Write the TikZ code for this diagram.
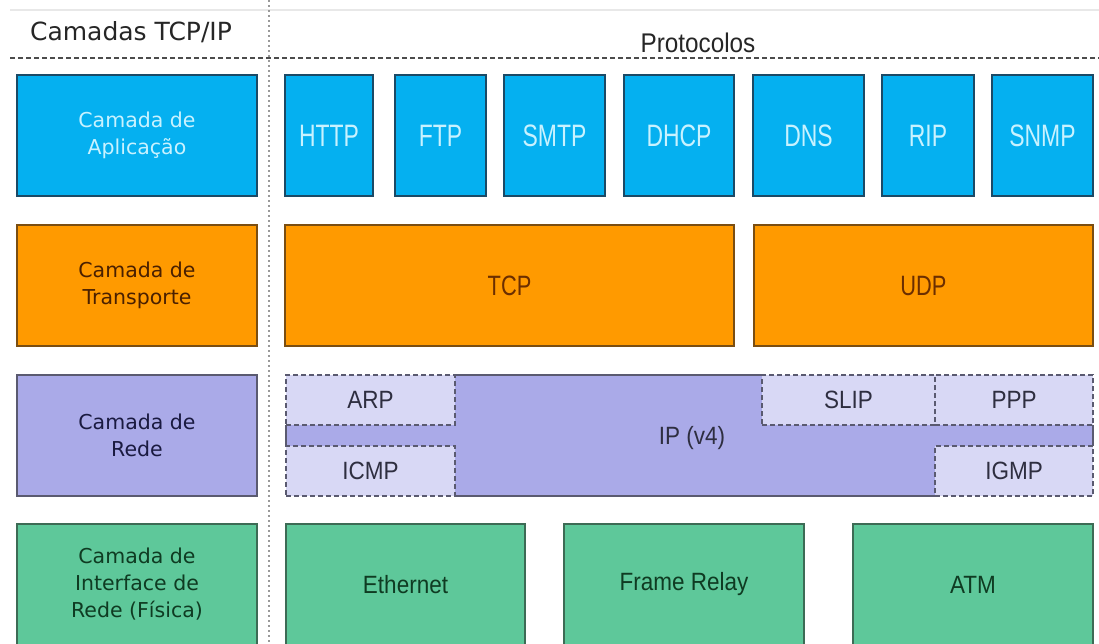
\documentclass[tikz,border=0pt]{standalone}
\usepackage{fontspec}
\newfontfamily\labfont{DejaVu Sans}
\newfontfamily\protofont[FakeStretch=0.74]{Liberation Sans}
\newfontfamily\trfont[FakeStretch=0.78]{Liberation Sans}
\newfontfamily\protofontb[FakeStretch=0.9]{Liberation Sans}
\definecolor{appblue}{HTML}{05B0F0}
\definecolor{appborder}{HTML}{1B4A66}
\definecolor{apptext}{HTML}{C8F2FF}
\definecolor{orng}{HTML}{FF9A00}
\definecolor{orngborder}{HTML}{7A4E12}
\definecolor{orngtext}{HTML}{6B2E00}
\definecolor{orngleft}{HTML}{4A2000}
\definecolor{purp}{HTML}{AAAAE8}
\definecolor{purplight}{HTML}{D8D8F5}
\definecolor{purpborder}{HTML}{5A5A70}
\definecolor{purptext}{HTML}{2E2E40}
\definecolor{purpleft}{HTML}{1A1A40}
\definecolor{grn}{HTML}{5EC89A}
\definecolor{grnborder}{HTML}{3D6B55}
\definecolor{grntext}{HTML}{0F3B22}
\begin{document}
\begin{tikzpicture}[x=1pt,y=-1pt,
  box/.style={inner sep=0pt,outer sep=0pt,line width=1.6pt,align=center},
  leftlab/.style={font=\labfont\fontsize{20.5}{27}\selectfont},
  appbox/.style={box,fill=appblue,draw=appborder,text=apptext},
  trbox/.style={box,fill=orng,draw=orngborder,text=orngtext},
  netbox/.style={box,fill=purp,draw=purpborder,text=purptext},
  subbox/.style={box,fill=purplight,draw=purpborder,dashed,dash pattern=on 5pt off 3pt,line width=1.4pt,text=purptext,font=\protofontb\fontsize{25}{28}\selectfont},
  phybox/.style={box,fill=grn,draw=grnborder,text=grntext,font=\protofontb\fontsize{25}{28}\selectfont},
  protlab/.style={font=\protofont\fontsize{31}{34}\selectfont},
  trlab/.style={font=\trfont\fontsize{28}{32}\selectfont},
  sep/.style={line width=1.5pt}
]
\useasboundingbox (0,0) rectangle (1099,643);
\fill[white] (0,0) rectangle (1099,643);
\begin{scope}
\clip (0,0) rectangle (1099,643);
% top faint edge
\draw[gray!18,line width=2.5pt] (10,10) -- (1099,10);
% headers
\node[font=\labfont\fontsize{25}{28}\selectfont,text=black!85,inner sep=0pt] (hdrl) at (131,32) {Camadas TCP/IP};
\node[font=\protofontb\fontsize{27}{30}\selectfont,text=black!85,inner sep=0pt] (hdrr) at (698,43) {Protocolos};
\coordinate (hl1) at (10,58);
\coordinate (hl2) at (1099,58);
\coordinate (vl1) at (269,0);
\coordinate (vl2) at (269,643);
\draw[black!70,line width=1.4pt,dash pattern=on 5pt off 3pt] (hl1) -- (hl2);
\draw[gray!80,line width=1.8pt,dash pattern=on 2pt off 3pt] (vl1) -- (vl2);

% row 1 application
\node[appbox,leftlab,text=apptext,minimum width=240pt,minimum height=121pt] (lapp) at (137,135.5) {Camada de\\Aplicação};
\node[appbox,protlab,minimum width=88pt,minimum height=121pt] (http) at (329,135.5) {HTTP};
\node[appbox,protlab,minimum width=91pt,minimum height=121pt] (ftp) at (440.5,135.5) {FTP};
\node[appbox,protlab,minimum width=101pt,minimum height=121pt] (smtp) at (554.5,135.5) {SMTP};
\node[appbox,protlab,minimum width=110pt,minimum height=121pt] (dhcp) at (679,135.5) {DHCP};
\node[appbox,protlab,minimum width=111pt,minimum height=121pt] (dns) at (808.5,135.5) {DNS};
\node[appbox,protlab,minimum width=92pt,minimum height=121pt] (rip) at (928,135.5) {RIP};
\node[appbox,protlab,minimum width=101pt,minimum height=121pt] (snmp) at (1042.5,135.5) {SNMP};

% row 2 transport
\node[trbox,leftlab,text=orngleft,minimum width=240pt,minimum height=121pt] (ltr) at (137,285.5) {Camada de\\Transporte};
\node[trbox,trlab,minimum width=449pt,minimum height=121pt] (tcp) at (509.5,285.5) {TCP};
\node[trbox,trlab,minimum width=339pt,minimum height=121pt] (udp) at (923.5,285.5) {UDP};

% row 3 network
\node[netbox,leftlab,text=purpleft,minimum width=240pt,minimum height=121pt] (lnet) at (137,435.5) {Camada de\\Rede};
\node[box,fill=purp,draw=none,minimum width=807pt,minimum height=121pt] (ip) at (689.5,435.5) {};
\node[inner sep=0pt,text=purptext,font=\protofontb\fontsize{25}{28}\selectfont] (iplab) at (692,438) {IP (v4)};
\node[subbox,minimum width=169pt,minimum height=50pt] (arp) at (370.5,400) {ARP};
\node[subbox,minimum width=169pt,minimum height=50pt] (icmp) at (370.5,471) {ICMP};
\node[subbox,minimum width=173pt,minimum height=50pt] (slip) at (848.5,400) {SLIP};
\node[subbox,minimum width=158pt,minimum height=50pt] (ppp) at (1014,400) {PPP};
\node[subbox,minimum width=158pt,minimum height=50pt] (igmp) at (1014,471) {IGMP};
\draw[purpborder,line width=1.6pt] (arp.north east) -- (slip.north west);
\draw[purpborder,line width=1.6pt] (icmp.south east) -- (igmp.south west);
\draw[purpborder,line width=1.6pt] (arp.south west) -- (icmp.north west);
\draw[purpborder,line width=1.6pt] (ppp.south east) -- (igmp.north east);

% row 4 physical
\node[phybox,leftlab,text=grntext,minimum width=240pt,minimum height=121pt] (lphy) at (137,584.5) {Camada de\\Interface de\\Rede (Física)};
\node[phybox,minimum width=239pt,minimum height=121pt] (eth) at (405.5,584.5) {Ethernet};
\node[phybox,minimum width=240pt,minimum height=121pt] (fr) at (684,584.5) {Frame Relay};
\node[phybox,minimum width=240pt,minimum height=121pt] (atm) at (973,584.5) {ATM};
\end{scope}
\end{tikzpicture}
\end{document}
